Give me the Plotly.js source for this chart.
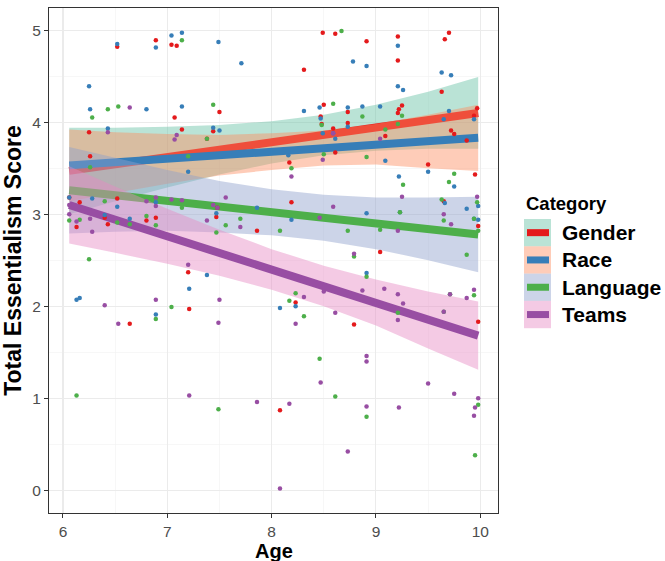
<!DOCTYPE html>
<html>
<head>
<meta charset="utf-8">
<script src="https://cdn.plot.ly/plotly-3.0.1.min.js"></script>
<style>html,body{margin:0;padding:0;background:#fff;}#chart{width:665px;height:561px;}</style>
</head>
<body>
<div id="chart"></div>
<script>
// ---------- DATA ----------
const categories = ["Gender", "Race", "Language", "Teams"];

const genderAge = [6.52,6.89,7.04,7.09,8.31,8.49,8.61,8.91,9.21,9.21,9.70,9.66,9.63,
  7.07,6.25,7.14,6.26,6.06,6.16,6.52,6.13,6.40,6.43,6.80,6.89,
  7.50,7.44,7.38,8.50,8.47,8.48,8.59,8.61,8.17,7.48,7.47,7.86,8.19,
  8.73,9.25,9.22,9.21,8.73,9.09,9.97,9.94,9.72,9.75,9.87,9.50,9.95,9.65,9.98,
  9.04,8.23,8.79,9.98,8.08,7.20,7.21,6.64];
const genderScore = [4.82,4.89,4.84,4.83,4.57,4.97,4.96,4.88,4.93,4.67,4.97,4.90,4.33,
  4.05,3.89,3.92,3.63,3.18,3.13,3.17,2.86,2.96,2.89,2.93,2.96,
  4.11,3.90,3.82,4.19,4.06,3.98,3.93,3.67,3.56,3.07,2.97,2.82,3.13,
  4.11,4.18,4.14,4.10,3.99,3.85,4.15,4.07,3.91,3.87,3.80,3.54,3.43,3.14,2.87,
  2.59,2.04,1.80,1.83,0.87,2.37,1.97,1.81];

const raceAge = [6.25,6.52,6.89,7.04,7.14,7.49,7.71,8.78,8.91,9.21,9.63,9.72,9.21,9.26,
  6.26,6.80,7.14,6.43,7.20,6.06,6.28,6.52,6.89,6.40,6.64,
  7.44,7.50,8.31,8.46,8.47,8.49,8.59,8.61,8.16,7.47,7.86,8.19,
  8.73,8.87,9.04,8.73,9.70,9.65,9.94,9.09,9.50,9.22,9.75,9.66,9.98,8.91,9.23,9.87,9.94,9.98,
  8.91,8.23,8.08,7.38,7.21,6.13,6.16,6.89];
const raceScore = [4.39,4.85,4.81,4.94,4.97,4.87,4.64,4.66,4.61,4.83,4.54,4.51,4.39,4.35,
  4.14,4.14,4.17,3.93,3.46,3.18,3.17,3.08,3.13,2.99,2.95,
  3.94,3.91,4.12,4.16,4.04,3.88,3.88,3.82,3.64,3.01,3.07,2.94,
  4.16,4.17,4.17,3.95,4.12,4.03,4.03,3.58,3.46,3.41,3.30,3.12,3.09,3.01,3.02,3.06,2.95,2.94,
  2.36,2.00,1.98,2.34,2.19,2.07,2.09,1.91];

const languageAge = [7.14,8.67,6.28,6.43,6.53,7.44,6.26,7.20,6.40,7.14,6.06,6.16,6.52,6.64,6.80,6.89,
  6.25,7.38,8.59,8.48,8.50,8.19,7.47,7.56,7.70,8.08,
  9.25,8.87,9.21,9.09,8.91,9.26,9.75,9.70,9.63,9.97,9.23,9.65,9.94,9.98,8.73,9.04,
  8.79,9.87,8.91,8.23,8.17,8.31,9.21,9.71,9.65,9.94,
  8.46,8.61,8.91,9.98,9.95,6.89,7.04,6.13,7.49];
const languageScore = [4.89,4.99,4.05,4.14,4.17,4.19,3.51,3.63,3.14,3.07,2.93,2.94,2.91,2.89,2.98,2.88,
  2.51,3.82,4.20,3.97,3.65,3.50,2.80,2.88,2.95,2.82,
  4.07,4.06,3.98,3.92,3.62,3.32,3.44,3.35,3.16,3.13,3.02,2.93,2.95,2.82,2.82,2.83,
  2.54,2.56,2.32,2.14,2.06,1.89,1.93,2.13,1.94,2.12,
  1.43,1.02,0.80,0.93,0.38,1.86,1.99,1.03,0.88];

const teamsAge = [6.64,6.43,7.09,7.07,6.80,6.89,6.89,7.04,7.14,6.06,6.06,6.13,6.26,6.28,
  8.59,8.49,8.19,7.56,7.44,7.48,7.38,7.70,8.46,8.59,
  9.04,9.25,9.97,9.65,9.72,9.21,
  8.79,8.31,8.23,8.50,8.61,8.87,9.08,9.21,9.26,9.21,9.71,9.65,9.87,9.94,
  8.91,8.91,8.47,9.50,9.75,8.17,8.91,9.22,9.98,9.95,9.94,8.73,8.08,
  7.20,6.40,6.89,7.50,7.49,6.53,7.21,7.86];
const teamsScore = [4.16,3.89,3.86,3.81,3.14,3.18,3.09,3.16,3.15,3.10,3.00,2.92,2.95,2.81,
  3.88,3.59,3.41,3.18,3.10,3.07,2.93,2.86,2.96,3.08,
  3.82,3.19,3.19,3.00,2.89,2.82,
  2.57,2.10,1.81,2.16,1.93,2.17,2.19,2.13,2.03,1.85,2.13,1.94,2.09,2.18,
  1.46,1.40,1.17,1.16,1.05,0.94,0.91,0.90,1.00,0.90,0.81,0.42,0.02,
  2.45,2.01,2.07,2.07,1.82,1.81,1.03,0.96];

// fitted lines (ends)
const fitAge = [6.06, 9.98];
const genderFit = [3.47, 4.10];
const raceFit = [3.53, 3.83];
const languageFit = [3.26, 2.78];
const teamsFit = [3.10, 1.68];

// confidence bands read at these ages
const bandAge = [6.06, 6.5, 7, 7.5, 8, 8.5, 9, 9.5, 9.98];
const genderUpper = [3.94,3.94,3.95,3.97,4.01,4.08,4.19,4.33,4.49];
const genderLower = [3.00,3.14,3.29,3.43,3.55,3.64,3.69,3.71,3.71];
const raceUpper = [3.92,3.89,3.87,3.86,3.88,3.91,3.98,4.08,4.19];
const raceLower = [3.14,3.23,3.33,3.42,3.48,3.53,3.54,3.50,3.47];
const languageUpper = [3.73,3.61,3.48,3.36,3.27,3.21,3.18,3.18,3.19];
const languageLower = [2.79,2.81,2.82,2.80,2.77,2.71,2.62,2.50,2.37];
const teamsUpper = [3.52,3.30,3.06,2.83,2.62,2.44,2.29,2.16,2.05];
const teamsLower = [2.68,2.58,2.46,2.33,2.18,2.00,1.79,1.54,1.31];

const xTicks = [6, 7, 8, 9, 10];
const yTicks = [0, 1, 2, 3, 4, 5];

// ---------- STYLE ----------
const lineColors = ["#E41A1C", "#377EB8", "#4DAF4A", "#984EA3"];
const bandColors = ["rgba(102,194,165,0.45)", "rgba(252,141,98,0.45)", "rgba(141,160,203,0.45)", "rgba(231,138,195,0.45)"];
const FONT = "Liberation Sans, Arial, Helvetica, sans-serif";

const series = [
  {age: genderAge, score: genderScore, fit: genderFit, up: genderUpper, lo: genderLower},
  {age: raceAge, score: raceScore, fit: raceFit, up: raceUpper, lo: raceLower},
  {age: languageAge, score: languageScore, fit: languageFit, up: languageUpper, lo: languageLower},
  {age: teamsAge, score: teamsScore, fit: teamsFit, up: teamsUpper, lo: teamsLower}
];

const traces = [];
series.forEach((s, i) => {
  const bx = bandAge.concat(bandAge.slice().reverse());
  const by = s.up.concat(s.lo.slice().reverse());
  traces.push({type: "scatter", mode: "lines", x: bx, y: by, fill: "toself",
    fillcolor: bandColors[i], line: {width: 0, color: "rgba(0,0,0,0)"},
    hoverinfo: "skip", showlegend: false, name: categories[i] + " CI"});
  traces.push({type: "scatter", mode: "lines", x: fitAge, y: s.fit,
    line: {color: lineColors[i], width: 8}, showlegend: false, name: categories[i]});
});
series.forEach((s, i) => {
  traces.push({type: "scatter", mode: "markers", x: s.age, y: s.score,
    marker: {color: lineColors[i], size: 4.5}, showlegend: false, name: categories[i]});
});

// ---------- LEGEND (drawn manually, ggplot-style) ----------
const L = 49, R = 498, T = 8, B = 513;
const px2x = p => (p - L) / (R - L);
const py2y = p => (B - p) / (B - T);
const shapes = [];
const annotations = [];
annotations.push({xref: "paper", yref: "paper", x: px2x(524), y: py2y(203), xanchor: "left", yanchor: "middle",
  text: "<b>Category</b>", showarrow: false, font: {family: FONT, size: 18.5, color: "#000"}});
const keyTop = 219, keyH = 27.3;
categories.forEach((c, i) => {
  const t = keyTop + i * keyH, b = t + keyH, m = (t + b) / 2;
  shapes.push({type: "rect", xref: "paper", yref: "paper", x0: px2x(524), x1: px2x(551), y0: py2y(b), y1: py2y(t),
    fillcolor: bandColors[i], line: {width: 0}, layer: "above"});
  shapes.push({type: "rect", xref: "paper", yref: "paper", x0: px2x(527), x1: px2x(549), y0: py2y(m + 3.5), y1: py2y(m - 3.5),
    fillcolor: lineColors[i], line: {width: 0}, layer: "above"});
  annotations.push({xref: "paper", yref: "paper", x: px2x(560), y: py2y(m), xanchor: "left", yanchor: "middle",
    text: "<b>" + c + "</b>", showarrow: false, font: {family: FONT, size: 21, color: "#000"}});
});
// x-axis title
annotations.push({xref: "paper", yref: "paper", x: 0.5, y: py2y(563), xanchor: "center", yanchor: "bottom",
  borderpad: 0, text: "<b>Age</b>", showarrow: false, font: {family: FONT, size: 20, color: "#000"}});

const axisCommon = {
  showgrid: true, gridcolor: "#EBEBEB", gridwidth: 1.1, zeroline: false,
  ticks: "outside", ticklen: 4, tickcolor: "#333333", tickwidth: 1,
  showline: true, mirror: true, linecolor: "#333333", linewidth: 1,
  tickfont: {family: FONT, size: 15.5, color: "#4D4D4D"}
};

const layout = {
  width: 665, height: 561,
  margin: {l: L, r: 665 - R, t: T, b: 561 - B},
  paper_bgcolor: "#fff", plot_bgcolor: "#fff",
  showlegend: false,
  font: {family: FONT},
  xaxis: Object.assign({}, axisCommon, {
    range: [5.866, 10.17], tickmode: "array", tickvals: xTicks, ticktext: xTicks.map(String),
    minor: {tickvals: [5.5, 6.5, 7.5, 8.5, 9.5], showgrid: true, gridcolor: "#F2F2F2", gridwidth: 0.6, ticks: ""}
  }),
  yaxis: Object.assign({}, axisCommon, {
    range: [-0.247, 5.24], tickmode: "array", tickvals: yTicks, ticktext: yTicks.map(String),
    minor: {tickvals: [0.5, 1.5, 2.5, 3.5, 4.5], showgrid: true, gridcolor: "#F2F2F2", gridwidth: 0.6, ticks: ""},
    title: {text: "<b>Total Essentialism Score</b>", font: {family: FONT, size: 23, color: "#000"}, standoff: 6}
  }),
  shapes: shapes,
  annotations: annotations
};

Plotly.newPlot("chart", traces, layout, {displayModeBar: false, staticPlot: true});
</script>
</body>
</html>
